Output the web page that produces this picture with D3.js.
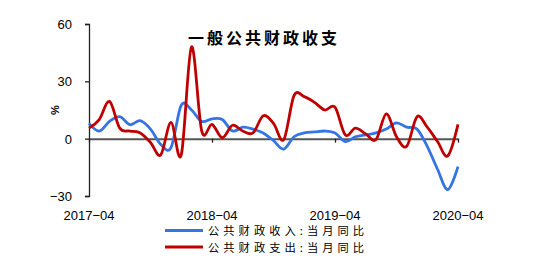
<!DOCTYPE html>
<html><head><meta charset="utf-8">
<script src="https://cdn.jsdelivr.net/npm/d3@7"></script>
<style>body{margin:0;background:#fff}svg{display:block}</style>
</head><body>
<svg id="c" width="554" height="271"></svg>
<script>
const months = d3.range(37).map(i => {const d = new Date(2017, 3 + i, 1); return d3.timeFormat("%Y-%m")(d);});
const revenue = [8, 4, 9, 11.5, 7.3, 9.4, 5, -3, -4.7, 17.5, 15, 9, 10.4, 10, 4, 6, 5, 3, -1, -5.5, 1, 3, 3.5, 4, 3, -1.5, 1, 2, 3, 5, 8.3, 6, 5, -4, -16, -26.6, -14.6];
const expenditure = [5.5, 10, 19.5, 5.5, 4, 3, -2, -8.5, 8.5, -8.5, 48, 4, 7.5, 0.5, 7, 4, 3, 12, 8, -0.5, 22.5, 22, 19, 15, 16.5, 2, 5.5, 2.5, -0.5, 13, 1, -4, 11.5, 6, -1.5, -9, 7.5];
const yTicks = [-30, 0, 30, 60];
const xTickLabels = ["2017-04", "2018-04", "2019-04", "2020-04"];
const seriesNames = ["公共财政收入:当月同比", "公共财政支出:当月同比"];
const title = "一般公共财政收支";

const svg = d3.select("#c");
const x = d3.scaleLinear().domain([0, months.length - 1]).range([89, 458]);
const y = d3.scaleLinear().domain([-30, 60]).range([196, 24]);

// y axis
const yAxis = svg.append("g").attr("transform", "translate(89,0)")
  .call(d3.axisLeft(y).tickValues(yTicks).tickSize(4).tickFormat(d => d < 0 ? "\u2212" + Math.abs(d) : d));
yAxis.select(".domain").attr("stroke", "#222").attr("stroke-width", 1.3);
yAxis.selectAll(".tick line").attr("stroke", "#222").attr("stroke-width", 1.3);
yAxis.selectAll("text").attr("font-family", "Liberation Sans, Arial").attr("font-size", 13).attr("fill", "#000").attr("x", -17).attr("dy", "0.35em");

// x axis at zero
const xIdx = xTickLabels.map(l => months.indexOf(l));
const xAxis = svg.append("g").attr("transform", `translate(0,${y(0)})`)
  .call(d3.axisBottom(x).tickValues(xIdx).tickSize(4).tickSizeOuter(0).tickFormat(() => ""));
xAxis.select(".domain").attr("stroke", "#555").attr("stroke-width", 2);
xAxis.selectAll(".tick line").attr("stroke", "#222").attr("stroke-width", 1.3);

// x tick labels at bottom
svg.append("g").selectAll("text").data(xTickLabels).join("text")
  .attr("x", d => x(months.indexOf(d))).attr("y", 219.5)
  .attr("text-anchor", "middle").attr("font-family", "Liberation Sans, Arial").attr("font-size", 13)
  .text(d => d.replace("-", "\u2212"));

// unit
svg.append("text").attr("transform", "translate(55,110) rotate(-90)")
  .attr("text-anchor", "middle").attr("dy", "0.35em").attr("font-family", "Liberation Sans, Arial")
  .attr("font-size", 11).attr("font-weight", "bold").text("%");

const line = d3.line().x((d, i) => x(i)).y(d => y(d)).curve(d3.curveCardinal.tension(0));
const colors = ["#3575e3", "#c00000"];
[revenue, expenditure].forEach((s, k) => {
  svg.append("path").attr("d", line(s)).attr("fill", "none")
    .attr("stroke", colors[k]).attr("stroke-width", 2.8).attr("stroke-linejoin", "round");
});

// title
svg.append("text").attr("x", 264).attr("y", 44).attr("text-anchor", "middle")
  .attr("font-family", "Noto Sans CJK SC").attr("font-weight", "bold").attr("font-size", 16)
  .attr("letter-spacing", 3).text(title);

// legend
seriesNames.forEach((n, k) => {
  const ly = 230.5 + k * 16.5;
  svg.append("line").attr("x1", 165).attr("x2", 203).attr("y1", ly).attr("y2", ly)
    .attr("stroke", colors[k]).attr("stroke-width", 3);
  svg.append("text").attr("x", 208).attr("y", ly + 0.5).attr("dy", "0.36em")
    .attr("font-family", "Noto Sans CJK SC").attr("font-size", 11.3).attr("letter-spacing", 4).text(n);
});
</script>
</body></html>
